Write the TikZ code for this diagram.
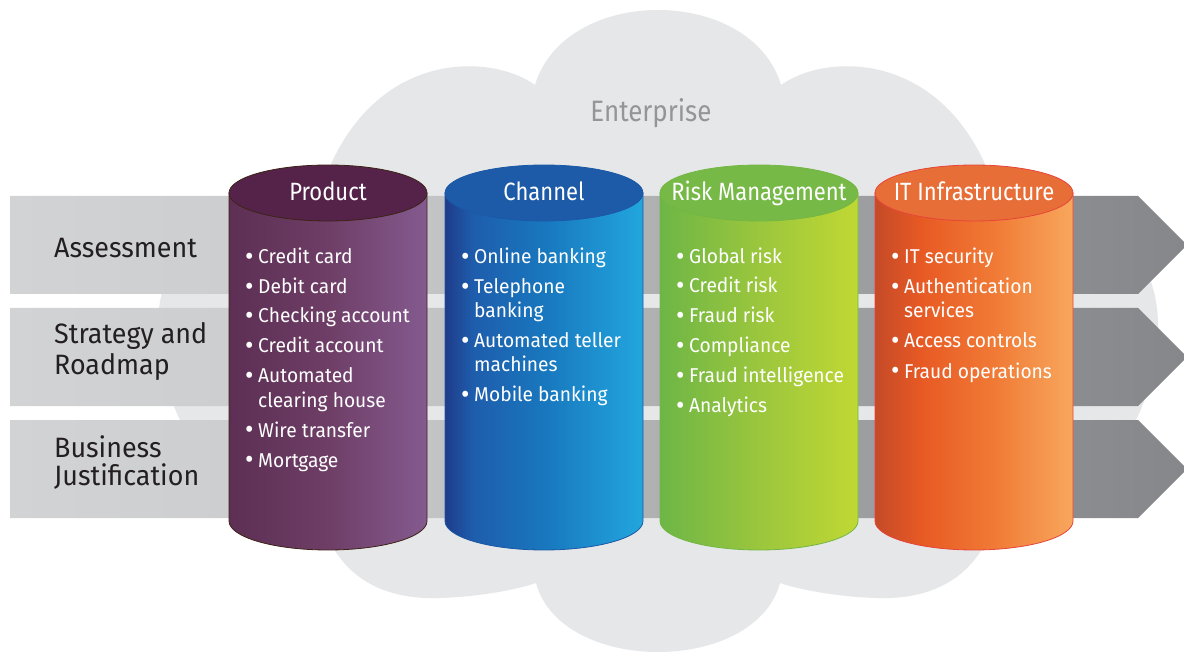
\documentclass[tikz,border=0pt]{standalone}
\usepackage{fontspec}
\setmainfont{Fira Sans}
\newfontfamily\ttlfont[FakeStretch=0.88]{Fira Sans}
\newfontfamily\bodyfont[FakeStretch=0.96]{Fira Sans}
\definecolor{cloudc}{HTML}{E6E7E8}
\definecolor{entc}{HTML}{939598}
\definecolor{lblc}{HTML}{231F20}
\definecolor{bandA}{HTML}{D2D3D5}
\definecolor{bandB}{HTML}{CDCED0}
\definecolor{bandC}{HTML}{C2C3C5}
\definecolor{bandD}{HTML}{B0B1B3}
\definecolor{bandE}{HTML}{9D9EA1}
\definecolor{bandF}{HTML}{8B8C8F}
\definecolor{bandG}{HTML}{86878A}
\definecolor{prA}{HTML}{5D2F54}
\definecolor{prB}{HTML}{6E3E66}
\definecolor{prC}{HTML}{845A8F}
\definecolor{prTop}{HTML}{55234A}
\definecolor{prLine}{HTML}{3D2316}
\definecolor{chA}{HTML}{1F3C8A}
\definecolor{chB}{HTML}{1E5DAC}
\definecolor{chC}{HTML}{1877BE}
\definecolor{chD}{HTML}{22A6DE}
\definecolor{chTop}{HTML}{1D5AA7}
\definecolor{chLine}{HTML}{1B58A5}
\definecolor{rkA}{HTML}{6DB646}
\definecolor{rkB}{HTML}{9BC63D}
\definecolor{rkC}{HTML}{C0D833}
\definecolor{rkTop}{HTML}{76B947}
\definecolor{rkLine}{HTML}{72B744}
\definecolor{itA}{HTML}{C54A28}
\definecolor{itB}{HTML}{E85A24}
\definecolor{itC}{HTML}{F07A35}
\definecolor{itD}{HTML}{F8A75D}
\definecolor{itTop}{HTML}{E86E37}
\definecolor{itLine}{HTML}{E6453A}
\pgfdeclarehorizontalshading{bandsh}{100bp}{color(0bp)=(bandA); color(25bp)=(bandA); color(34.35bp)=(bandB); color(43.27bp)=(bandC); color(52.19bp)=(bandD); color(61.33bp)=(bandE); color(70.46bp)=(bandF); color(75bp)=(bandG); color(100bp)=(bandG)}
\pgfdeclarehorizontalshading{prsh}{100bp}{color(0bp)=(prA); color(25bp)=(prA); color(50bp)=(prB); color(75bp)=(prC); color(100bp)=(prC)}
\pgfdeclarehorizontalshading{chsh}{100bp}{color(0bp)=(chA); color(25bp)=(chA); color(32bp)=(chB); color(50bp)=(chC); color(75bp)=(chD); color(100bp)=(chD)}
\pgfdeclarehorizontalshading{rksh}{100bp}{color(0bp)=(rkA); color(25bp)=(rkA); color(50bp)=(rkB); color(75bp)=(rkC); color(100bp)=(rkC)}
\pgfdeclarehorizontalshading{itsh}{100bp}{color(0bp)=(itA); color(25bp)=(itA); color(37bp)=(itB); color(55bp)=(itC); color(75bp)=(itD); color(100bp)=(itD)}
\tikzset{
  lbl/.style={anchor=base west, inner sep=0pt, text=lblc, font=\bodyfont\fontsize{28}{30}\selectfont},
  ttl/.style={anchor=base, inner sep=0pt, text=white, font=\ttlfont\fontsize{25}{28}\selectfont},
  itm/.style={anchor=base west, inner sep=0pt, text=white, font=\bodyfont\fontsize{20}{24}\selectfont},
  entlbl/.style={anchor=base, inner sep=0pt, text=entc, font=\ttlfont\fontsize{29.5}{32}\selectfont},
  bandshape/.style={shading=bandsh},
  cylline/.style={line width=0.8pt}
}
\newcommand\cylbody[4]{%
  \shadedraw[shading=#2, draw=#4, cylline] (#1,193) -- (#1,521) arc[start angle=180, end angle=360, x radius=99pt, y radius=29pt] -- (#1+198,193) -- cycle;
  \filldraw[fill=#3, draw=#4, cylline] (#1+99,193) ellipse[x radius=99pt, y radius=28pt];
}
\newcommand\bigbul{\makebox[10pt][c]{\fontsize{27}{24}\selectfont\raisebox{-1.8pt}{\textbullet}}}
\newcommand\bitem[4]{\node[itm] (#1) at (#2,#3) {\bigbul\hspace{4pt}#4};}
\newcommand\citem[4]{\node[itm] (#1) at (#2,#3) {\hspace{14pt}#4};}
\begin{document}
\begin{tikzpicture}[x=1pt,y=-1pt]
\fill[white] (0,0) rectangle (1184,652);
\useasboundingbox (0,0) rectangle (1184,652);
\clip (0,0) rectangle (1184,652);
% cloud
\fill[cloudc] (535,85) .. controls (565,-15) and (751,-15) .. (781,85)
  .. controls (830,50) and (960,50) .. (1001,210)
  .. controls (1100,190) and (1160,250) .. (1158,330)
  .. controls (1156,400) and (1120,470) .. (1060,500)
  -- (1000,500)
  .. controls (985,580) and (930,600) .. (876,598)
  .. controls (840,597) and (800,590) .. (780,583)
  .. controls (755,675) and (561,675) .. (536,583)
  .. controls (516,590) and (476,597) .. (440,598)
  .. controls (386,600) and (331,580) .. (316,500)
  -- (256,500)
  .. controls (196,470) and (160,400) .. (158,330)
  .. controls (156,250) and (216,190) .. (315,210)
  .. controls (356,50) and (486,50) .. (535,85) -- cycle;
\node[entlbl] (ent) at (651,122) {Enterprise};
% bands
\foreach \t in {196,308,420} {
  \shade[bandshape] (10,\t) -- (1138,\t) -- (1187,\t+49) -- (1138,\t+98) -- (10,\t+98) -- cycle;
}
\node[lbl] (asm) at (54,258) {Assessment};
\node[lbl] (str1) at (54,344) {Strategy and};
\node[lbl] (str2) at (54,374) {Roadmap};
\node[lbl] (bus1) at (54,457) {Business};
\node[lbl] (bus2) at (54,485) {Justification};
% cylinders
\cylbody{229}{prsh}{prTop}{prLine}
\cylbody{445}{chsh}{chTop}{chLine}
\cylbody{660}{rksh}{rkTop}{rkLine}
\cylbody{875}{itsh}{itTop}{itLine}
\node[ttl] (tpr) at (328,201) {Product};
\node[ttl] (tch) at (544,201) {Channel};
\node[ttl] (trk) at (759,201) {Risk Management};
\node[ttl] (tit) at (974,201) {IT Infrastructure};
% product items
\bitem{p1}{244}{264}{Credit card}
\bitem{p2}{244}{294}{Debit card}
\bitem{p3}{244}{323}{Checking account}
\bitem{p4}{244}{353}{Credit account}
\bitem{p5}{244}{383}{Automated}
\citem{p5b}{244}{407}{clearing house}
\bitem{p6}{244}{437}{Wire transfer}
\bitem{p7}{244}{467}{Mortgage}
% channel items
\bitem{c1}{460}{264}{Online banking}
\bitem{c2}{460}{294}{Telephone}
\citem{c2b}{460}{318}{banking}
\bitem{c3}{460}{348}{Automated teller}
\citem{c3b}{460}{372}{machines}
\bitem{c4}{460}{402}{Mobile banking}
% risk items
\bitem{r1}{675}{264}{Global risk}
\bitem{r2}{675}{293}{Credit risk}
\bitem{r3}{675}{323}{Fraud risk}
\bitem{r4}{675}{353}{Compliance}
\bitem{r5}{675}{383}{Fraud intelligence}
\bitem{r6}{675}{413}{Analytics}
% IT items
\bitem{i1}{890}{264}{IT security}
\bitem{i2}{890}{294}{Authentication}
\citem{i2b}{890}{318}{services}
\bitem{i3}{890}{348}{Access controls}
\bitem{i4}{890}{378}{Fraud operations}
\end{tikzpicture}
\end{document}
